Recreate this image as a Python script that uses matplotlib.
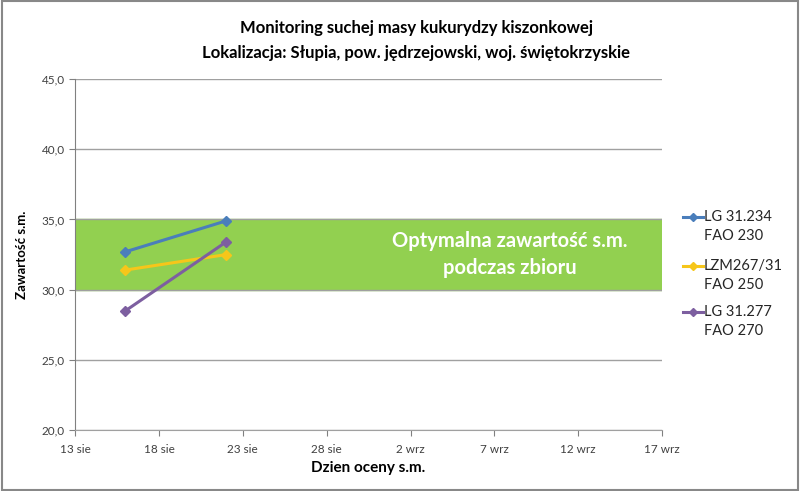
import matplotlib
matplotlib.use('Agg')
import matplotlib.pyplot as plt
import matplotlib.dates as mdates
from matplotlib.lines import Line2D
from matplotlib.ticker import FuncFormatter
from datetime import datetime, timedelta

plt.rcParams['font.family'] = ['Lato', 'DejaVu Sans']

# data
dates = [datetime(2014, 8, 16), datetime(2014, 8, 22)]
lg234 = [32.7, 34.9]
lzm267 = [31.4, 32.5]
lg277 = [28.5, 33.4]
series_names = ['LG 31.234\nFAO 230', 'LZM267/31\nFAO 250', 'LG 31.277\nFAO 270']
series_colors = ['#4a7ebb', '#f6c61a', '#7d5fa0']
band_low, band_high = 30, 35
x_start = datetime(2014, 8, 13)
x_end = datetime(2014, 9, 17)
month_names = {8: 'sie', 9: 'wrz'}

fig = plt.figure(figsize=(8, 4.91), dpi=100)
ax = fig.add_axes([0.094, 0.124, 0.7335, 0.715])

ax.axhspan(band_low, band_high, color='#92d050', zorder=1)
ax.text(0.741, 32.5, 'Optymalna zawartość s.m.\npodczas zbioru', transform=ax.get_yaxis_transform(),
        ha='center', va='center', color='white', fontsize=14.5, fontweight='bold',
        linespacing=1.45, zorder=2)

for vals, name, col in zip([lg234, lzm267, lg277], series_names, series_colors):
    ax.plot(dates, vals, color=col, lw=2.2, marker='D', ms=5, label=name, zorder=3)

ax.set_xlim(x_start, x_end)
ax.set_ylim(20, 45)
ax.set_yticks([20, 25, 30, 35, 40, 45])
ax.yaxis.set_major_formatter(FuncFormatter(lambda v, p: f'{v:.1f}'.replace('.', ',')))
ax.set_xticks([x_start + timedelta(days=5 * i) for i in range(8)])
ax.xaxis.set_major_formatter(FuncFormatter(
    lambda v, p: f'{mdates.num2date(v).day} {month_names[mdates.num2date(v).month]}'))

ax.grid(axis='y', color='#a0a0a0', lw=1, zorder=0)
for s in ['top', 'right']:
    ax.spines[s].set_visible(False)
ax.spines['left'].set_color('#808080')
ax.spines['bottom'].set_color('#a0a0a0')
ax.tick_params(axis='both', labelsize=8.5, colors='#404040', length=4, color='#808080')
ax.tick_params(axis='x', pad=6)

ax.set_ylabel('Zawartość s.m.', fontsize=9.5, fontweight='bold', labelpad=10)
ax.set_xlabel('Dzien oceny s.m.', fontsize=11, fontweight='bold', labelpad=4)

fig.text(0.52, 0.943, 'Monitoring suchej masy kukurydzy kiszonkowej', ha='center', va='center',
         fontsize=12, fontweight='bold')
fig.text(0.52, 0.892, 'Lokalizacja: Słupia, pow. jędrzejowski, woj. świętokrzyskie', ha='center',
         va='center', fontsize=12, fontweight='bold')

# legend drawn by hand so the key sits next to the first line of each label
leg_rows = [217, 266, 312]
for row, name, col in zip(leg_rows, series_names, series_colors):
    yf = 1 - row / 491
    fig.add_artist(Line2D([683 / 800, 703 / 800], [yf, yf], color=col, lw=2.2,
                          transform=fig.transFigure))
    fig.add_artist(Line2D([693 / 800], [yf], color=col, marker='D', ms=4.5,
                          transform=fig.transFigure))
    fig.text(704 / 800, yf + 7 / 491, name, ha='left', va='top', fontsize=10.5,
             color='#262626', linespacing=1.45)

fig.patches.append(plt.Rectangle((0.002, 0.002), 0.996, 0.996, transform=fig.transFigure,
                                 fill=False, edgecolor='#888888', lw=1.5))

fig.savefig('out.png', dpi=100)
